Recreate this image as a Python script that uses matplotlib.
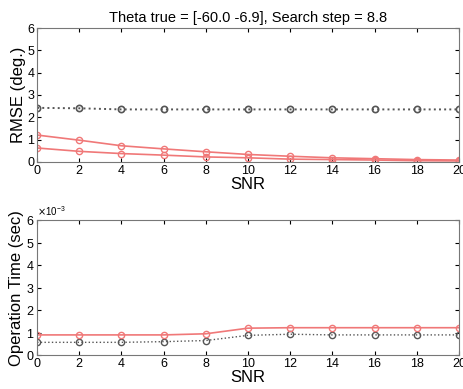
import numpy as np
import matplotlib
matplotlib.use("Agg")
import matplotlib.pyplot as plt
from matplotlib.ticker import ScalarFormatter

plt.rcParams['font.family'] = ['Liberation Sans', 'DejaVu Sans']

# datos
snr = [0, 2, 4, 6, 8, 10, 12, 14, 16, 18, 20]
rmse_gris = [2.42, 2.40, 2.35, 2.35, 2.35, 2.35, 2.35, 2.35, 2.35, 2.35, 2.35]
rmse_rojo1 = [1.20, 0.97, 0.72, 0.58, 0.45, 0.33, 0.25, 0.18, 0.14, 0.10, 0.08]
rmse_rojo2 = [0.62, 0.47, 0.37, 0.30, 0.22, 0.18, 0.12, 0.10, 0.08, 0.05, 0.04]
tiempo_rojo = [0.90e-3, 0.90e-3, 0.90e-3, 0.90e-3, 0.95e-3, 1.20e-3, 1.22e-3, 1.22e-3, 1.22e-3, 1.22e-3, 1.22e-3]
tiempo_gris = [0.57e-3, 0.57e-3, 0.57e-3, 0.60e-3, 0.65e-3, 0.88e-3, 0.93e-3, 0.90e-3, 0.90e-3, 0.90e-3, 0.90e-3]

rojo = '#f07878'
gris = '#555555'

fig = plt.figure(figsize=(4.64, 3.89), dpi=100)
ax1 = fig.add_axes([0.080, 0.584, 0.909, 0.344])
ax2 = fig.add_axes([0.080, 0.087, 0.909, 0.347])

# grafico de arriba
ax1.plot(snr, rmse_gris, ':', color=gris, marker='o', mfc='none', ms=4.5, lw=1.4, mew=1.2)
ax1.plot(snr, rmse_rojo1, '-', color=rojo, marker='o', mfc='none', ms=4.5, lw=1.2, mew=1.0)
ax1.plot(snr, rmse_rojo2, '-', color=rojo, marker='o', mfc='none', ms=4.5, lw=1.2, mew=1.0)
ax1.set_ylim(0, 6)
ax1.set_yticks(np.arange(0, 7, 1))
ax1.set_ylabel('RMSE (deg.)', fontsize=12, labelpad=1)
ax1.set_title('Theta true = [-60.0 -6.9], Search step = 8.8', fontsize=10.5, pad=4)

# grafico de abajo
ax2.plot(snr, tiempo_gris, ':', color=gris, marker='o', mfc='none', ms=4.5, lw=1.0, mew=1.0)
ax2.plot(snr, tiempo_rojo, '-', color=rojo, marker='o', mfc='none', ms=4.5, lw=1.2, mew=1.0)
ax2.set_ylim(0, 6e-3)
ax2.set_yticks(np.arange(0, 7, 1) * 1e-3)
ax2.set_ylabel('Operation Time (sec)', fontsize=12, labelpad=1)
fmt = ScalarFormatter(useMathText=True)
fmt.set_powerlimits((-3, 3))
ax2.yaxis.set_major_formatter(fmt)
ax2.yaxis.get_offset_text().set_fontsize(7)

for ax in (ax1, ax2):
    ax.set_xlim(0, 20)
    ax.set_xticks(snr)
    ax.set_xlabel('SNR', fontsize=12, labelpad=0)
    ax.tick_params(direction='in', top=True, right=True, labelsize=9, length=3, pad=2)
    for s in ax.spines.values():
        s.set_color('#777777')

fig.savefig('out.png', dpi=100)
